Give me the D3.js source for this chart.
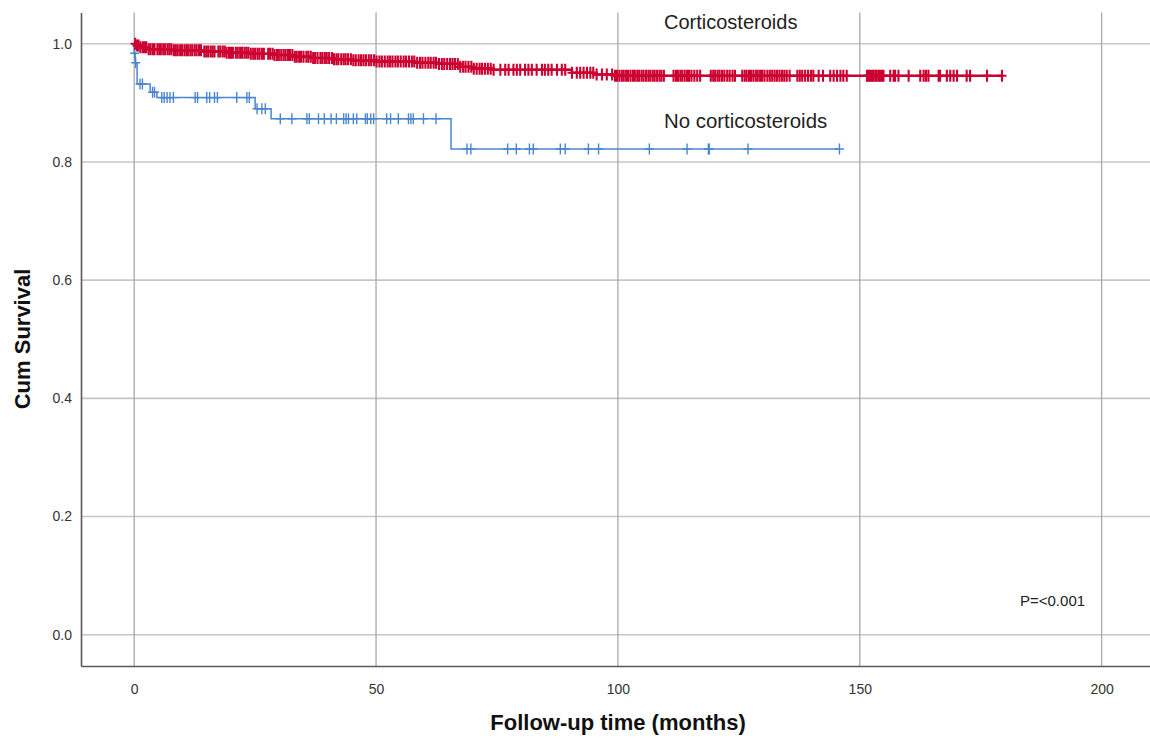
<!DOCTYPE html>
<html>
<head>
<meta charset="utf-8">
<script src="https://cdn.jsdelivr.net/npm/d3@7"></script>
<style>
  body { margin: 0; background: #fff; }
  svg { display: block; font-family: "Liberation Sans", Arial, sans-serif; }
</style>
</head>
<body>
<div id="chart"></div>
<script>
const xTicks = [0, 50, 100, 150, 200];
const yTicks = [0.0, 0.2, 0.4, 0.6, 0.8, 1.0];

// No corticosteroids: event times (months) and survival after each event
const noSteroidEventTimes = [0.0, 0.2, 0.6, 3.3, 4.7, 25.0, 28.3, 65.5];
const noSteroidSurvival = [0.984, 0.968, 0.932, 0.918, 0.909, 0.890, 0.873, 0.822];
const noSteroidCensored = [
  0.1, 0.3, 1.2, 1.7, 3.8, 4.2, 5.7, 6.2, 6.8, 7.4, 8.1, 12.6, 13.1, 15.0, 15.6,
  16.6, 17.2, 21.2, 23.3, 23.8, 25.4, 26.4, 27.1, 30.2, 32.6, 35.7, 36.2, 38.1,
  39.3, 40.7, 41.8, 43.3, 43.8, 44.3, 45.3, 46.0, 47.8, 48.2, 48.9, 49.5, 52.2,
  53.0, 54.6, 56.7, 57.2, 57.7, 59.8, 62.4, 68.8, 69.6, 77.2, 79.0, 81.7, 82.5,
  88.1, 89.1, 93.9, 96.0, 106.5, 114.3, 118.7, 118.9, 126.9, 145.8
];

// Corticosteroids
const steroidEventTimes = [
  0.3, 1.0, 3.0, 8.0, 14.0, 19.0, 24.0, 29.0, 33.0, 37.0, 41.0, 45.0, 50.0,
  58.0, 63.0, 67.0, 70.0, 74.0, 90.5, 95.0, 99.3
];
const steroidSurvival = [
  0.997, 0.994, 0.991, 0.989, 0.987, 0.985, 0.983, 0.981, 0.978, 0.976, 0.974,
  0.972, 0.970, 0.968, 0.966, 0.961, 0.958, 0.956, 0.951, 0.948, 0.946
];
const steroidCensored = [
  0.2, 0.6, 0.9, 1.3, 1.8, 2.2, 2.5, 3.0, 3.4, 3.9, 4.2, 4.8, 5.2, 5.5, 6.0, 6.4,
  6.9, 7.3, 7.7, 8.2, 8.6, 9.0, 9.5, 9.9, 10.4, 10.8, 11.1, 11.6, 12.0, 12.5,
  12.9, 13.4, 13.8, 14.5, 14.9, 15.3, 15.8, 16.2, 16.6, 17.4, 17.8, 18.3, 18.7,
  19.1, 19.6, 20.0, 20.4, 21.0, 21.4, 21.9, 22.3, 22.8, 23.2, 23.6, 24.1, 24.6,
  25.0, 25.5, 25.9, 26.4, 26.8, 27.7, 28.1, 28.6, 29.0, 29.5, 29.9,
  30.4, 30.9, 31.3, 31.8, 32.2, 32.7, 33.2, 33.6, 34.1, 34.5, 35.0, 35.6, 36.0,
  36.5, 37.0, 37.4, 37.9, 38.5, 38.9, 39.4, 39.8, 40.3, 40.9, 41.3, 41.8, 42.2,
  42.8, 43.3, 43.7, 44.2, 44.8, 45.3, 45.8, 46.4, 46.9, 47.4, 47.9, 48.5, 49.0,
  49.6, 50.1, 50.7, 51.2, 51.8, 52.4, 52.9, 53.4, 54.0, 54.5, 55.1, 55.7, 56.2,
  56.8, 57.4, 57.9, 58.5, 59.1, 59.6, 60.2, 60.8, 61.3, 61.9, 62.4, 63.0, 63.6,
  64.1, 64.7, 65.3, 65.8,
  66.3, 66.9, 67.4, 68.0, 68.5, 69.1, 69.7, 70.2, 70.8, 71.4, 71.9, 72.5, 73.1,
  73.7, 74.3, 75.7, 76.7, 77.4, 78.4, 79.1, 79.8, 80.8, 81.5, 82.2, 83.2, 84.3,
  84.9, 85.6, 86.3, 87.4, 88.4, 89.1, 90.5, 91.5, 92.2, 92.9, 93.6, 94.3, 94.9,
  95.6, 96.7, 97.7, 98.8, 99.4,
  99.8, 100.3, 100.8, 101.2, 101.7, 102.1, 102.6, 103.1, 103.5, 104.0, 104.4,
  104.9, 105.3, 105.8, 106.3, 106.7, 107.2, 107.6, 108.1, 108.6, 109.0, 109.5,
  111.5, 112.0, 112.4, 112.9, 113.3, 113.8, 114.3, 114.7, 115.2, 115.8, 116.4,
  117.0, 119.2, 119.7, 120.1, 120.6, 121.0, 121.5, 122.0, 122.6, 123.1, 123.7,
  124.2, 125.7, 126.2, 126.6, 127.1, 127.5, 128.0, 128.5, 128.9, 129.4, 129.8,
  130.3, 130.9, 131.4, 131.9, 132.4, 132.9, 133.4, 133.9, 134.4, 134.9, 135.5,
  137.1, 137.6, 138.1, 138.7, 139.3, 139.9, 140.4, 141.5, 142.4, 143.9, 144.6,
  145.3, 146.0, 146.6, 147.3, 151.5, 151.8, 152.1, 152.5, 152.8, 153.2, 153.5,
  153.9, 154.2, 154.6, 154.9, 156.3, 157.0, 157.3, 158.0, 160.1, 162.5, 163.2,
  163.7, 164.2, 166.3, 166.6, 168.0, 168.7, 169.4, 170.1, 172.1, 172.8, 176.3,
  179.4
];

class SurvivalChart {
  constructor(params) {
    this.attrs = Object.assign(
      {
        container: "#chart",
        width: 1150,
        height: 740,
        plotLeft: 81,
        plotRight: 1150,
        plotTop: 12.5,
        plotBottom: 666,
        xDomain: [-11, 210],
        yDomain: [-0.053, 1.053],
        groups: [],
      },
      params
    );
    this.main();
  }

  main() {
    const { attrs } = this;

    this.svg = d3
      .select(attrs.container)
      .append("svg")
      .attr("width", attrs.width)
      .attr("height", attrs.height);

    this.x = d3
      .scaleLinear()
      .domain(attrs.xDomain)
      .range([attrs.plotLeft, attrs.plotRight]);

    this.y = d3
      .scaleLinear()
      .domain(attrs.yDomain)
      .range([attrs.plotBottom, attrs.plotTop]);

    this.drawGrid();
    this.drawAxes();
    attrs.groups.forEach((g) => this.drawCurve(g));
    this.drawLabels();
  }

  drawGrid() {
    const { attrs, x, y } = this;
    const grid = this.svg.append("g").attr("class", "grid");

    grid
      .selectAll(".h-grid")
      .data(yTicks)
      .join("line")
      .attr("class", "h-grid")
      .attr("x1", attrs.plotLeft)
      .attr("x2", attrs.plotRight)
      .attr("y1", (d) => y(d))
      .attr("y2", (d) => y(d))
      .attr("stroke", "#c6c6c6")
      .attr("stroke-width", 1.6);

    grid
      .selectAll(".v-grid")
      .data(xTicks)
      .join("line")
      .attr("class", "v-grid")
      .attr("x1", (d) => x(d))
      .attr("x2", (d) => x(d))
      .attr("y1", attrs.plotTop)
      .attr("y2", attrs.plotBottom)
      .attr("stroke", "#a9a9a9")
      .attr("stroke-width", 1.3);
  }

  drawAxes() {
    const { attrs, x, y } = this;

    const xAxis = this.svg
      .append("g")
      .attr("transform", `translate(0,${attrs.plotBottom})`)
      .call(d3.axisBottom(x).tickValues(xTicks).tickSize(0).tickPadding(18));

    const yAxis = this.svg
      .append("g")
      .attr("transform", `translate(${attrs.plotLeft},0)`)
      .call(
        d3.axisLeft(y).tickValues(yTicks).tickSize(0).tickPadding(9).tickFormat(d3.format(".1f"))
      );

    [xAxis, yAxis].forEach((ax) => {
      ax.select(".domain").attr("stroke", "#5a5a5a").attr("stroke-width", 1.6);
      ax.selectAll("text")
        .attr("fill", "#333")
        .style("font-size", "14px")
        .style("font-family", '"Liberation Sans", Arial, sans-serif');
    });

    // axis titles
    this.svg
      .append("text")
      .attr("x", 618)
      .attr("y", 730)
      .attr("text-anchor", "middle")
      .attr("font-weight", "bold")
      .attr("font-size", 22)
      .attr("fill", "#111")
      .text("Follow-up time (months)");

    this.svg
      .append("text")
      .attr("transform", "translate(30,339) rotate(-90)")
      .attr("text-anchor", "middle")
      .attr("font-weight", "bold")
      .attr("font-size", 22)
      .attr("fill", "#111")
      .text("Cum Survival");
  }

  levelAt(g, t) {
    let s = 1;
    g.times.forEach((et, i) => {
      if (et <= t) s = g.survival[i];
    });
    return s;
  }

  drawCurve(g) {
    const { x, y } = this;
    const end = d3.max(g.censored);
    const points = [[0, 1]]
      .concat(g.times.map((t, i) => [t, g.survival[i]]))
      .concat([[end, g.survival[g.survival.length - 1]]]);

    const line = d3
      .line()
      .x((d) => x(d[0]))
      .y((d) => y(d[1]))
      .curve(d3.curveStepAfter);

    const group = this.svg.append("g").attr("class", "curve");

    group
      .append("path")
      .datum(points)
      .attr("d", line)
      .attr("fill", "none")
      .attr("stroke", g.color)
      .attr("stroke-width", g.lineWidth);

    group
      .selectAll(".censor")
      .data(g.censored)
      .join("path")
      .attr("class", "censor")
      .attr("d", (t) => {
        const cx = x(t);
        const cy = y(this.levelAt(g, t));
        return `M${cx - 4.5},${cy}H${cx + 4.5}M${cx},${cy - g.markHalf}V${cy + g.markHalf}`;
      })
      .attr("fill", "none")
      .attr("stroke", g.color)
      .attr("stroke-width", g.markWidth);
  }

  drawLabels() {
    const labels = [
      { text: "Corticosteroids", x: 664, y: 29, size: 20 },
      { text: "No corticosteroids", x: 664, y: 128, size: 20.4 },
      { text: "P=<0.001", x: 1020, y: 606, size: 15 },
    ];

    this.svg
      .selectAll(".label")
      .data(labels)
      .join("text")
      .attr("class", "label")
      .attr("x", (d) => d.x)
      .attr("y", (d) => d.y)
      .attr("font-size", (d) => d.size)
      .attr("fill", "#222")
      .text((d) => d.text);
  }
}

new SurvivalChart({
  groups: [
    {
      name: "No corticosteroids",
      times: noSteroidEventTimes,
      survival: noSteroidSurvival,
      censored: noSteroidCensored,
      color: "#4a86d0",
      lineWidth: 1.5,
      markWidth: 1.4,
      markHalf: 5.5,
    },
    {
      name: "Corticosteroids",
      times: steroidEventTimes,
      survival: steroidSurvival,
      censored: steroidCensored,
      color: "#cc0030",
      lineWidth: 2.4,
      markWidth: 2.1,
      markHalf: 6,
    },
  ],
});
</script>
</body>
</html>
